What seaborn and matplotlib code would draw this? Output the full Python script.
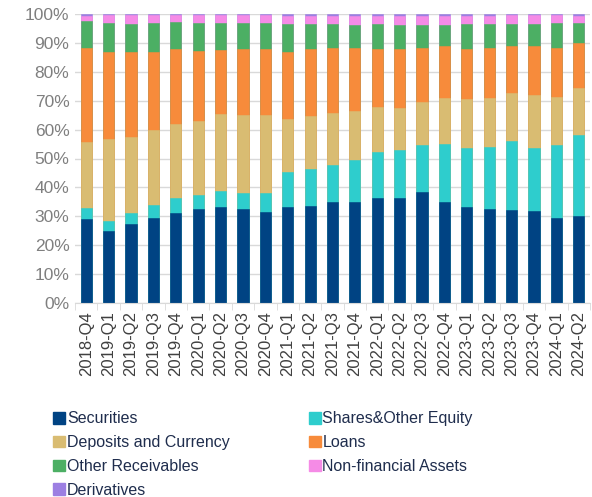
import matplotlib
matplotlib.use("Agg")
import matplotlib.pyplot as plt
from matplotlib.patches import Patch
import numpy as np
import pandas as pd
import seaborn as sns

quarters = ["2018-Q4", "2019-Q1", "2019-Q2", "2019-Q3", "2019-Q4", "2020-Q1", "2020-Q2",
            "2020-Q3", "2020-Q4", "2021-Q1", "2021-Q2", "2021-Q3", "2021-Q4", "2022-Q1",
            "2022-Q2", "2022-Q3", "2022-Q4", "2023-Q1", "2023-Q2", "2023-Q3", "2023-Q4",
            "2024-Q1", "2024-Q2"]

securities = [29.1, 24.9, 27.2, 29.5, 31.1, 32.6, 33.1, 32.6, 31.5, 33.3, 33.6, 34.8, 35.0,
              36.2, 36.4, 38.4, 35.1, 33.2, 32.6, 32.3, 31.8, 29.4, 30.0]
shares = [3.7, 3.6, 4.0, 4.3, 5.1, 4.7, 5.5, 5.3, 6.5, 11.9, 12.6, 13.1, 14.5,
          15.9, 16.4, 16.4, 20.0, 20.3, 21.3, 23.7, 22.0, 25.4, 28.2]
deposits = [22.8, 28.1, 26.4, 26.2, 25.8, 25.8, 26.8, 27.1, 27.1, 18.5, 18.5, 17.7, 17.1,
            15.6, 14.6, 14.6, 16.0, 17.1, 17.0, 16.7, 18.2, 16.6, 16.2]
loans = [32.6, 30.3, 29.2, 27.0, 25.9, 24.1, 22.2, 22.8, 22.7, 23.3, 23.2, 22.8, 21.8,
         20.3, 20.6, 19.0, 18.0, 17.4, 17.3, 16.4, 17.1, 16.7, 15.5]
other_receivables = [9.3, 10.1, 9.9, 10.0, 9.3, 9.8, 9.4, 9.2, 9.1, 9.4, 8.6, 8.0, 7.9,
                     8.5, 8.3, 7.9, 7.1, 8.4, 8.3, 7.3, 7.6, 8.8, 7.1]
non_financial = [1.9, 2.5, 2.8, 2.5, 2.3, 2.5, 2.5, 2.5, 2.6, 3.0, 2.9, 3.0, 3.1,
                 2.9, 3.1, 3.1, 3.2, 3.0, 2.9, 3.1, 2.8, 2.6, 2.2]
derivatives = [0.6, 0.5, 0.5, 0.5, 0.5, 0.5, 0.5, 0.5, 0.5, 0.6, 0.6, 0.6, 0.6,
               0.6, 0.6, 0.6, 0.6, 0.6, 0.6, 0.5, 0.5, 0.5, 0.8]

series_names = ["Securities", "Shares&Other Equity", "Deposits and Currency", "Loans",
                "Other Receivables", "Non-financial Assets", "Derivatives"]
series_vals = [securities, shares, deposits, loans, other_receivables, non_financial, derivatives]
colors = ["#004383", "#2ECDCD", "#D9BC72", "#F78B3B", "#4CAF64", "#F58BE6", "#9C7FE2"]

df = pd.DataFrame({n: v for n, v in zip(series_names, series_vals)}, index=quarters)
cum = df.cumsum(axis=1)
cum = cum.div(cum.iloc[:, -1], axis=0) * 100
cum["Quarter"] = quarters

fig = plt.figure(figsize=(5.92, 4.97), dpi=100)
ax = fig.add_axes([75 / 592, 1 - 303 / 497, 515 / 592, 289 / 497])

for name, col in reversed(list(zip(series_names, colors))):
    sns.barplot(data=cum, x="Quarter", y=name, color=col, width=0.5, ax=ax,
                edgecolor=col, linewidth=0.4, saturation=1)

ax.set_ylim(0, 100)
ax.set_xlim(-0.5, len(quarters) - 0.5)
ax.set_yticks(np.arange(0, 101, 10))
ax.set_yticklabels([f"{v}%" for v in range(0, 101, 10)])
ax.set_xlabel("")
ax.set_ylabel("")
ax.grid(axis="y", color="#D9D9D9", linewidth=1)
ax.set_axisbelow(True)
for s in ["top", "right", "left"]:
    ax.spines[s].set_visible(False)
ax.spines["bottom"].set_color("#D9D9D9")
ax.tick_params(axis="y", length=0, labelsize=12.5, labelcolor="#7F7F7F", pad=4)
ax.tick_params(axis="x", length=0, labelsize=12, labelcolor="#404040", rotation=90, pad=6)
ax.set_xticks(np.arange(-0.5, len(quarters), 1), minor=True)
ax.tick_params(axis="x", which="minor", length=5, color="#D9D9D9")
for lab in ax.get_xticklabels() + ax.get_yticklabels():
    lab.set_fontfamily("Liberation Sans")

order = [0, 2, 4, 6, 1, 3, 5]
handles = [Patch(facecolor=colors[i], edgecolor=colors[i]) for i in order]
labels = [series_names[i] for i in order]
leg = fig.legend(handles, labels, loc="upper left", bbox_to_anchor=(39 / 592, 1 - 397 / 497),
                 ncol=2, frameon=False, prop={"family": "Liberation Sans", "size": 11.5},
                 handlelength=0.75, handleheight=0.75, handletextpad=0.1,
                 labelspacing=0.55, columnspacing=4.95, labelcolor="#1F2D4D")

fig.savefig("out.png", dpi=100)
